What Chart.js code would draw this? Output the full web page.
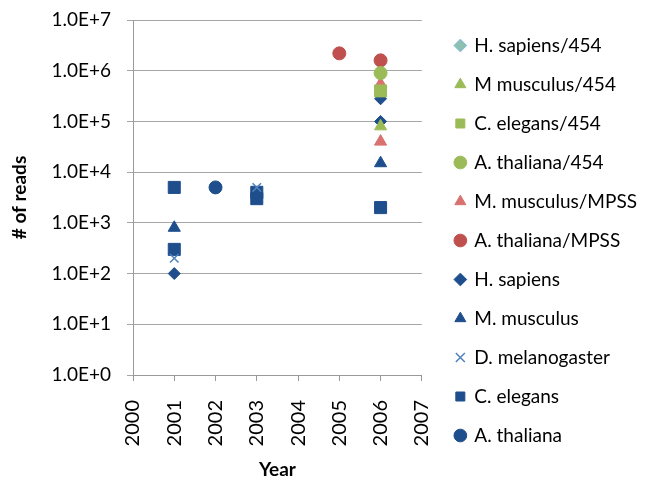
<!DOCTYPE html>
<html>
<head>
<meta charset="utf-8">
<script src="https://cdn.jsdelivr.net/npm/chart.js@4"></script>
<style>
  html, body { margin: 0; padding: 0; background: #fff; }
  #wrap { width: 659px; height: 481px; }
</style>
</head>
<body>
<div id="wrap"><canvas id="readsChart"></canvas></div>
<script>
// [year, # of reads] per series
const hSapiens454 = [[2006, 400000]];
const mMusculus454 = [[2006, 80000]];
const cElegans454 = [[2006, 400000]];
const aThaliana454 = [[2006, 900000]];
const mMusculusMPSS = [[2006, 40000], [2006, 550000]];
const aThalianaMPSS = [[2005, 2200000], [2006, 1600000]];
const hSapiens = [[2001, 100], [2006, 280000], [2006, 100000]];
const mMusculus = [[2001, 800], [2006, 15000]];
const dMelanogaster = [[2001, 200], [2003, 5000]];
const cElegans = [[2001, 5000], [2001, 300], [2003, 4000], [2003, 3000], [2006, 2000]];
const aThaliana = [[2002, 5000]];

const yTicks = [1, 10, 100, 1000, 10000, 100000, 1000000, 10000000];
const xMin = 2000, xMax = 2007;

const blue = '#1F4E8C';
const green = '#9BBB59';
const red = '#C0504D';

function pts(arr) {
  return arr.map(p => ({ x: p[0], y: p[1] }));
}

function series(label, data, style, color, radius, border) {
  return {
    label: label,
    data: pts(data),
    pointStyle: style,
    pointRadius: radius,
    pointHoverRadius: radius,
    backgroundColor: color,
    borderColor: border || color,
    borderWidth: style === 'crossRot' ? 1.5 : 1,
    showLine: false,
    order: 0
  };
}

Chart.defaults.font.family = "Lato, 'Liberation Sans', sans-serif";
Chart.defaults.color = '#000';

// the light blue 454 diamond is hidden behind the others in the picture
const hs454 = series('H. sapiens/454', hSapiens454, 'rectRot', '#8CC0B0', 6, '#7FB6DA');
hs454.order = 1;

new Chart(document.getElementById('readsChart'), {
  type: 'scatter',
  data: {
    datasets: [
      hs454,
      series('M musculus/454', mMusculus454, 'triangle', green, 7),
      series('C. elegans/454', cElegans454, 'rect', green, 8.5),
      series('A. thaliana/454', aThaliana454, 'circle', green, 6.5),
      series('M. musculus/MPSS', mMusculusMPSS, 'triangle', '#D9716E', 7),
      series('A. thaliana/MPSS', aThalianaMPSS, 'circle', red, 6.5),
      series('H. sapiens', hSapiens, 'rectRot', blue, 6),
      series('M. musculus', mMusculus, 'triangle', blue, 7),
      series('D. melanogaster', dMelanogaster, 'crossRot', '#4F81BD', 6),
      series('C. elegans', cElegans, 'rect', blue, 8.5),
      series('A. thaliana', aThaliana, 'circle', blue, 6.5)
    ]
  },
  options: {
    responsive: true,
    maintainAspectRatio: false,
    animation: false,
    layout: { padding: { top: 0, right: 12, left: 4, bottom: 0 } },
    plugins: {
      tooltip: { enabled: false },
      legend: {
        position: 'right',
        maxWidth: 300,
        labels: {
          usePointStyle: true,
          boxHeight: 9,
          boxWidth: 9,
          padding: 20,
          font: { size: 19 },
          color: '#000',
          sort: (a, b) => a.datasetIndex - b.datasetIndex
        }
      }
    },
    scales: {
      x: {
        type: 'linear',
        min: xMin,
        max: xMax,
        afterFit: scale => { scale.height = 106; },
        ticks: {
          stepSize: 1,
          minRotation: 90,
          maxRotation: 90,
          padding: 19,
          font: { size: 20 },
          callback: v => String(v)
        },
        grid: { drawOnChartArea: false, tickLength: 6, color: '#999' },
        border: { color: '#999' },
        title: { display: true, text: 'Year', font: { size: 19, weight: 'bold' }, padding: { top: 4, bottom: 0 } }
      },
      y: {
        type: 'logarithmic',
        min: 1,
        max: 10000000,
        afterFit: scale => { scale.width = 129; scale.paddingTop = 20; },
        afterBuildTicks: axis => { axis.ticks = yTicks.map(v => ({ value: v })); },
        ticks: {
          padding: 16,
          font: { size: 19 },
          callback: v => '1.0E+' + Math.round(Math.log10(v))
        },
        grid: { color: '#A6A6A6', tickLength: 6 },
        border: { color: '#999' },
        title: { display: true, text: '# of reads', font: { size: 19, weight: 'bold' }, padding: { top: 4, bottom: 4 } }
      },
      // empty spacer between plot area and legend
      gap: {
        position: 'right',
        display: true,
        grid: { display: false },
        border: { display: false },
        ticks: { display: false },
        afterFit: scale => { scale.width = 14; }
      }
    }
  }
});
</script>
</body>
</html>
